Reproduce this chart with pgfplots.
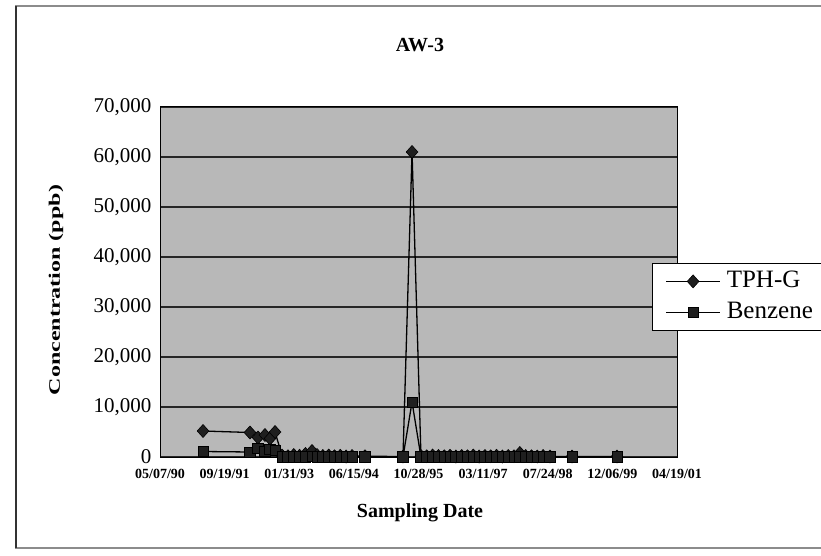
\documentclass[border=0pt]{standalone}
\usepackage{pgfplots}
\usepackage{pgfplotstable}
\pgfplotsset{compat=1.18}
\usepackage{fontspec}
\setmainfont{Liberation Serif}

\definecolor{plotfill}{gray}{0.72}
\definecolor{markfill}{gray}{0.12}
\definecolor{framegray}{gray}{0.55}

% Sampling date (spreadsheet serial day number), TPH-G and benzene in ppb
\pgfplotstableread{
date  tph    benz
33333 5200   1100
33696 4900   1000
33758 3900   1700
33812 4400   1200
33851 3700   1500
33890 5000   1300
33944 300    80
33990 150    40
34035 400    60
34080 250    30
34125 600    50
34176 1200   90
34215 400    40
34260 200    20
34305 300    30
34350 150    15
34395 250    25
34440 100    10
34486 200    20
34586 150    15
34880 100    10
34950 61000  11000
35019 200    20
35064 150    15
35109 300    20
35154 200    15
35199 150    10
35244 250    20
35289 100    10
35334 200    15
35379 150    10
35424 300    20
35469 100    10
35514 200    15
35559 150    10
35604 250    20
35649 100    10
35694 200    15
35739 150    10
35784 800    40
35829 200    15
35874 150    10
35919 100    10
35964 200    15
36017 100    10
36188 100    10
36536 100    10
}\awthree

\begin{document}
\begin{tikzpicture}
  % chart frame
  \draw[framegray, line width=1.5pt] (16pt,7pt) rectangle (835pt,549pt);
  \draw[black!80, line width=1.5pt] (16pt,7pt) -- (16pt,549pt);

  \begin{axis}[
    at={(160pt,98pt)}, anchor=south west,
    scale only axis, width=517pt, height=350pt,
    xmin=33000, xmax=37000, ymin=0, ymax=70000,
    xtick={33000,33500,...,37000},
    xticklabels={05/07/90,09/19/91,01/31/93,06/15/94,10/28/95,03/11/97,07/24/98,12/06/99,04/19/01},
    ytick={0,10000,...,70000},
    scaled x ticks=false, scaled y ticks=false,
    major tick length=0pt,
    axis background/.style={fill=plotfill},
    axis line style={black, line width=1pt},
    ymajorgrids,
    major grid style={black!85, line width=1.1pt},
    yticklabel style={
      /pgf/number format/.cd, fixed, 1000 sep={,}, assume math mode=true,
      /tikz/.cd, font=\fontsize{21}{23}\selectfont, xshift=-5pt},
    xticklabel style={font=\bfseries\fontsize{14}{16}\selectfont, yshift=-9pt},
    clip=false,
    legend style={
      at={(rel axis cs:0.9516,0.5543)}, anchor=north west,
      draw=black, fill=white, line width=0.8pt,
      font=\fontsize{25}{25}\selectfont,
      inner xsep=13pt, inner ysep=6pt, row sep=7pt, column sep=6pt,
      nodes={inner sep=0pt, text height=18pt, text depth=6pt}},
    legend cell align=left,
    legend image code/.code={
      \draw[line width=1.4pt, mark repeat=2, mark phase=2]
        plot coordinates {(0pt,0pt) (27pt,0pt) (54pt,0pt)};},
  ]
    \addplot[black, line width=1.3pt, mark=diamond*, mark size=6.5pt,
      mark options={fill=markfill, draw=black, line width=0.6pt, xscale=1.2}]
      table[x=date, y=tph] {\awthree};
    \addlegendentry{TPH-G}
    \addplot[black, line width=1.3pt, mark=square*, mark size=5.2pt,
      mark options={fill=markfill, draw=black, line width=0.6pt}]
      table[x=date, y=benz] {\awthree};
    \addlegendentry{Benzene\hspace{14pt}}
  \end{axis}

  \node[font=\bfseries\fontsize{20}{22}\selectfont] at (420pt,510pt) {AW-3};
  \node[font=\bfseries\fontsize{20}{22}\selectfont] at (420pt,42pt) {Sampling Date};
  \node[font=\bfseries\fontsize{16}{18}\selectfont, rotate=90] at (56pt,265pt)
    {\scalebox{1.5}[1]{Concentration (ppb)}};

  \pgfresetboundingbox
  \path[use as bounding box] (0pt,0pt) rectangle (821pt,555pt);
\end{tikzpicture}
\end{document}
